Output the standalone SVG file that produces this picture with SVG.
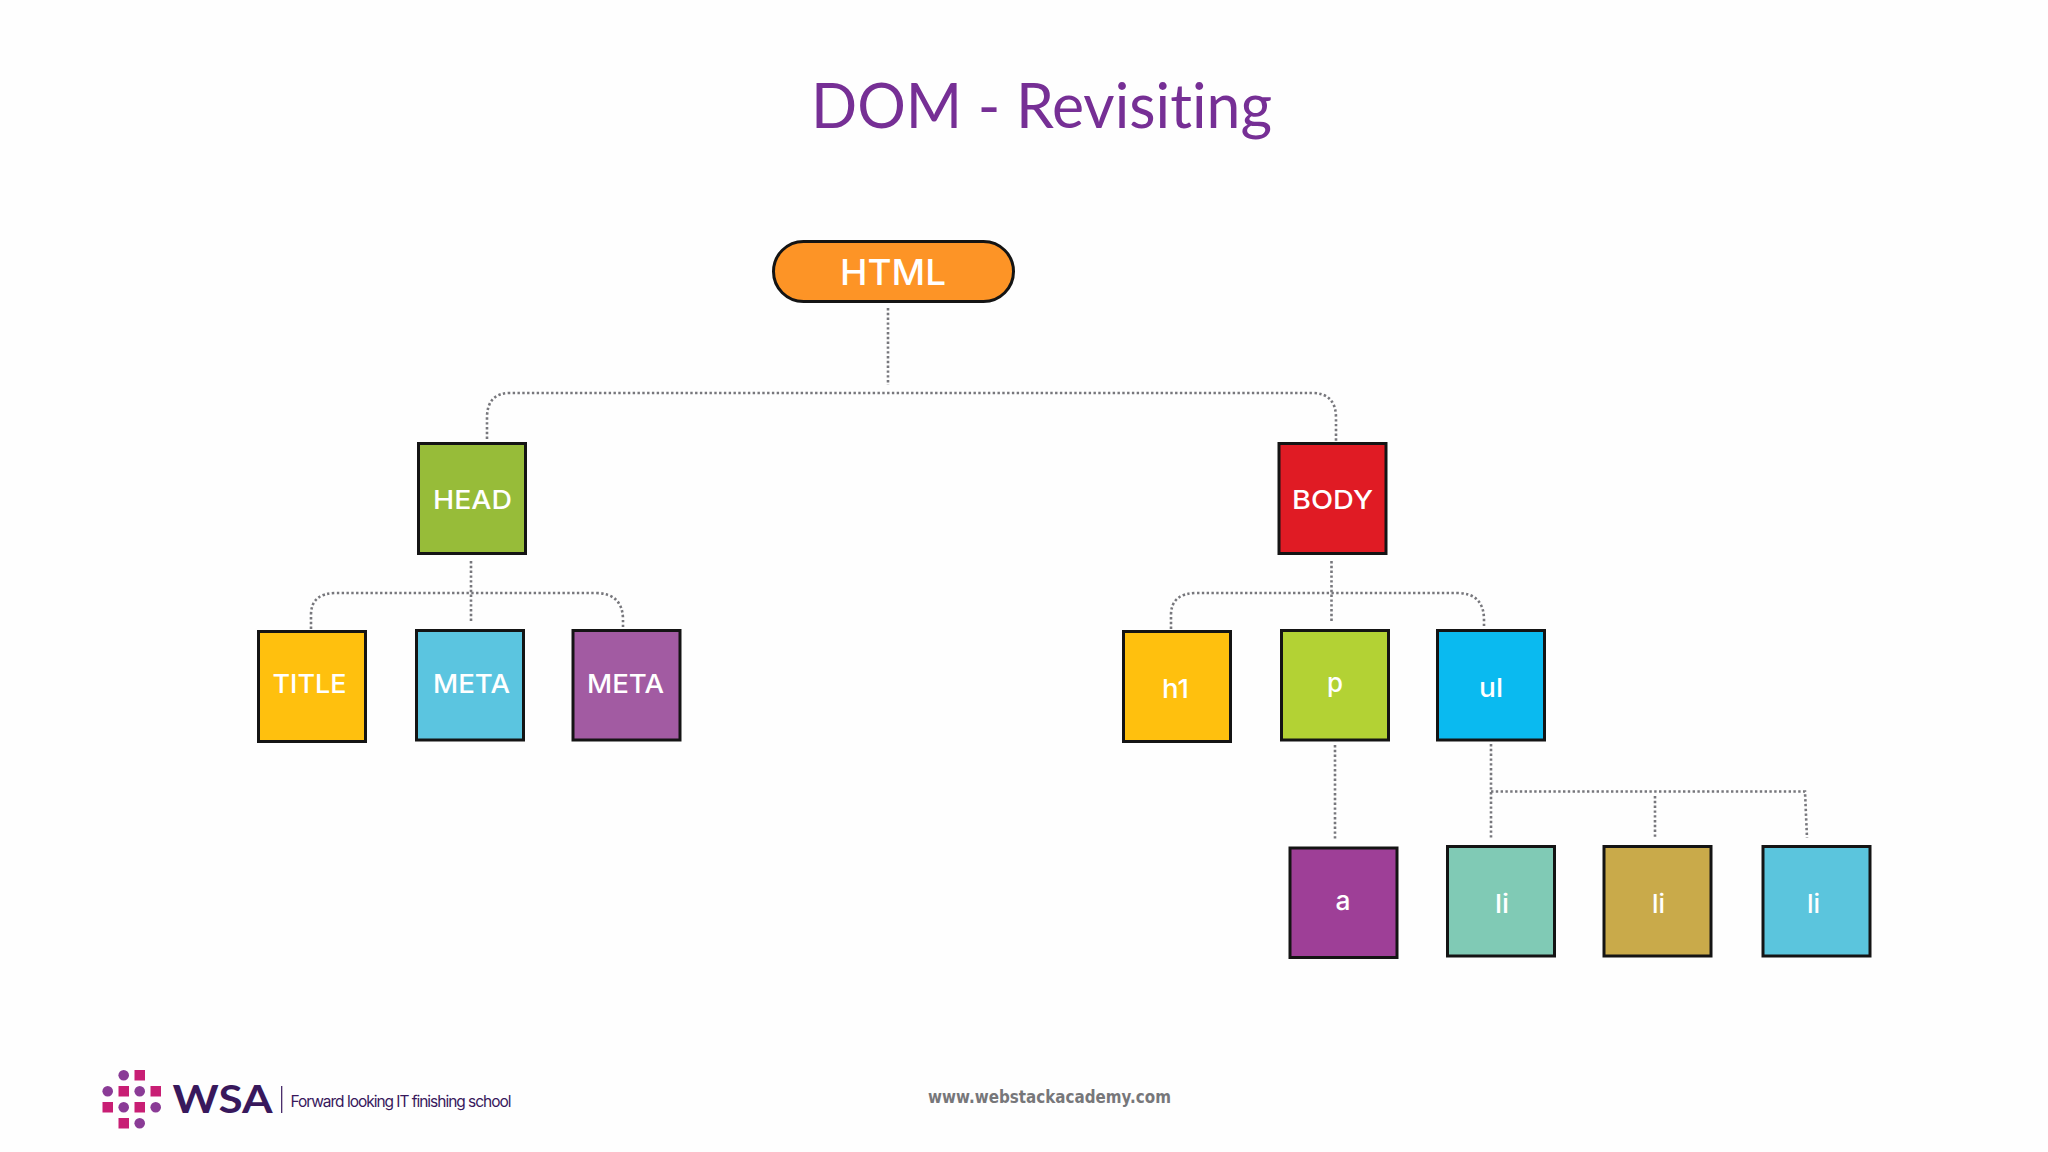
<svg xmlns="http://www.w3.org/2000/svg" width="2048" height="1152" viewBox="0 0 2048 1152">
<style>
.n{stroke:#141414;stroke-width:3}
.t{font-family:"Inter","Liberation Sans",sans-serif;font-weight:500;font-size:26px;fill:#fff}
.c{fill:none;stroke:#77777c;stroke-width:2.6;stroke-dasharray:2.4 2.4}
.d{fill:#8a3b96}
.s{fill:#c81e74}
</style>
<rect width="2048" height="1152" fill="#fefefe"/>
<text id="title" x="811" y="128" font-family="Lato,'Liberation Sans',sans-serif" font-size="62" fill="#762f95" style="font-variant-ligatures:none" textLength="461" lengthAdjust="spacingAndGlyphs">DOM - Revisiting</text>
<g id="connectors" class="c">
<path class="c" d="M888 308V385"/>
<path class="c" d="M487 439V418Q487 393 510 393H1312Q1336 393 1336 418V441"/>
<path class="c" d="M471 561V622"/>
<path class="c" d="M311 629V615Q311 593 336 593H595Q623 593 623 620V627"/>
<path class="c" d="M1331.500 561V622"/>
<path class="c" d="M1171 629V615Q1171 593 1197 593H1457Q1484 593 1484 620V627"/>
<path class="c" d="M1335 745V841"/>
<path class="c" d="M1491 744V840"/>
<path class="c" d="M1491 791.500H1805L1807 838"/>
<path class="c" d="M1655 796V838"/>
</g>
<g id="html"><rect class="n" x="773.500" y="241.500" width="240" height="60" rx="30" fill="#fd9426"/><text class="t" style="font-size:36px" x="840" y="285" textLength="106" lengthAdjust="spacingAndGlyphs">HTML</text></g>
<g id="head"><rect class="n" x="418.500" y="443.500" width="107" height="110" fill="#97bc39"/><text class="t" x="433" y="508.500" textLength="79" lengthAdjust="spacingAndGlyphs">HEAD</text></g>
<g id="body"><rect class="n" x="1279" y="443.500" width="107" height="110" fill="#e01b24"/><text class="t" x="1292" y="508.500" textLength="81" lengthAdjust="spacingAndGlyphs">BODY</text></g>
<g id="title-node"><rect class="n" x="258.500" y="631.500" width="107" height="110" fill="#ffc00e"/><text class="t" x="272.500" y="693" textLength="74" lengthAdjust="spacingAndGlyphs">TITLE</text></g>
<g id="meta1"><rect class="n" x="416.500" y="630.500" width="107" height="109.500" fill="#5bc5e0"/><text class="t" x="433" y="693" textLength="77" lengthAdjust="spacingAndGlyphs">META</text></g>
<g id="meta2"><rect class="n" x="573" y="630.500" width="107" height="109.500" fill="#a25ba2"/><text class="t" x="587" y="693" textLength="77" lengthAdjust="spacingAndGlyphs">META</text></g>
<g id="h1"><rect class="n" x="1123.500" y="631.500" width="107" height="110" fill="#ffc00e"/><text class="t" x="1162" y="697.500" textLength="27" lengthAdjust="spacingAndGlyphs">h1</text></g>
<g id="p"><rect class="n" x="1281.500" y="630.500" width="107" height="109.500" fill="#b3d234"/><text class="t" x="1327" y="692" textLength="16" lengthAdjust="spacingAndGlyphs">p</text></g>
<g id="ul"><rect class="n" x="1437.500" y="630.500" width="107" height="109.500" fill="#0abaf0"/><text class="t" x="1479" y="696.500" textLength="24" lengthAdjust="spacingAndGlyphs">ul</text></g>
<g id="a"><rect class="n" x="1290" y="848" width="107" height="109.500" fill="#9e3f97"/><text class="t" x="1335.500" y="909.500" textLength="15" lengthAdjust="spacingAndGlyphs">a</text></g>
<g id="li1"><rect class="n" x="1447.500" y="846.500" width="107" height="109.500" fill="#80cab5"/><text class="t" x="1495" y="912.500" textLength="14" lengthAdjust="spacingAndGlyphs">li</text></g>
<g id="li2"><rect class="n" x="1604" y="846.500" width="107" height="109.500" fill="#c9aa4a"/><text class="t" x="1652" y="912.500" textLength="13" lengthAdjust="spacingAndGlyphs">li</text></g>
<g id="li3"><rect class="n" x="1763" y="846.500" width="107" height="109.500" fill="#5bc5dd"/><text class="t" x="1807" y="912.500" textLength="13" lengthAdjust="spacingAndGlyphs">li</text></g>
<g id="logo">
<circle class="d" cx="123.700" cy="1075.300" r="5.300"/><rect class="s" x="134.500" y="1070" width="10.500" height="10.500"/>
<circle class="d" cx="107.700" cy="1091.300" r="5.300"/><rect class="s" x="118.500" y="1086" width="10.500" height="10.500"/><circle class="d" cx="139.700" cy="1091.300" r="5.300"/><rect class="s" x="150.500" y="1086" width="10.500" height="10.500"/>
<rect class="s" x="102.500" y="1102" width="10.500" height="10.500"/><circle class="d" cx="123.700" cy="1107.300" r="5.300"/><rect class="s" x="134.500" y="1102" width="10.500" height="10.500"/><circle class="d" cx="155.700" cy="1107.300" r="5.300"/>
<rect class="s" x="118.500" y="1118" width="10.500" height="10.500"/><circle class="d" cx="139.700" cy="1123.300" r="5.300"/>
<text x="172.500" y="1113.300" font-family="Lato,'Liberation Sans',sans-serif" font-weight="700" font-size="38" fill="#38185c" textLength="100" lengthAdjust="spacingAndGlyphs">WSA</text>
<path d="M281.700 1086V1113" stroke="#38185c" stroke-width="1.200"/>
<text x="290.500" y="1106.500" font-family="Inter,'Liberation Sans',sans-serif" font-size="15.500" fill="#38185c" textLength="221" lengthAdjust="spacing">Forward looking IT finishing school</text>
</g>
<text id="url" x="928" y="1103" font-family="'DejaVu Sans',sans-serif" font-weight="700" font-size="18" fill="#77777a" textLength="243" lengthAdjust="spacingAndGlyphs">www.webstackacademy.com</text>
</svg>
